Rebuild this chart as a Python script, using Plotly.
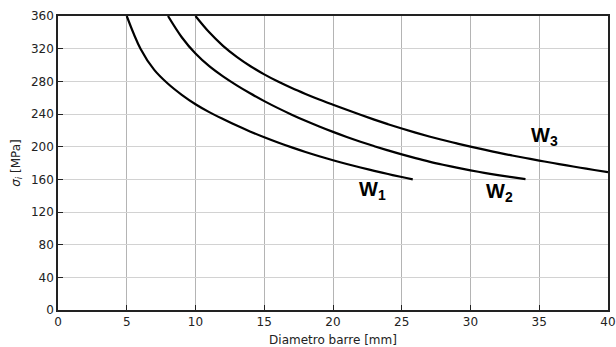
import plotly.graph_objects as go

# Data
w1_x = [5, 6, 7, 8, 9, 10, 11, 12, 13, 14, 15, 16, 17, 18, 19, 20, 21, 22, 23, 24, 25, 25.8]
w1_y = [360, 320, 294, 277, 263.5, 252, 242.3, 233.8, 225.8, 218.4, 211.5, 205.1, 199.1, 193.5,
        188.3, 183.4, 178.8, 174.5, 170.4, 166.5, 162.8, 160]

w2_x = [8, 9, 10, 11, 12, 13, 14, 15, 16, 17, 18, 19, 20, 21, 22, 23, 24, 25, 26, 27, 28, 29,
        30, 31, 32, 33, 34]
w2_y = [360, 334, 314, 298.5, 286, 275, 265, 255.8, 247.2, 239.2, 231.7, 224.7, 218.1, 211.9,
        206.1, 200.6, 195.4, 190.5, 185.9, 181.6, 177.8, 174.3, 171, 168, 165.2, 162.6, 160.2]

w3_x = [10, 11, 12, 13, 14, 15, 16, 17, 18, 19, 20, 21, 22, 23, 24, 25, 26, 27, 28, 29, 30,
        31, 32, 33, 34, 35, 36, 37, 38, 39, 40]
w3_y = [360, 340, 323.5, 310, 298.5, 288.5, 279.7, 271.8, 264.6, 257.8, 251.4, 245.1, 239,
        233.1, 227.5, 222.2, 217.2, 212.5, 208.1, 204, 200.1, 196.3, 192.7, 189.3, 186.1,
        183, 180, 177.1, 174.2, 171.4, 168.7]

labels = ["W<sub>1</sub>", "W<sub>2</sub>", "W<sub>3</sub>"]
label_x = [22.9, 32.1, 35.4]
label_y = [146, 144, 213]

x_ticks = [0, 5, 10, 15, 20, 25, 30, 35, 40]
y_ticks = [0, 40, 80, 120, 160, 200, 240, 280, 320, 360]

fig = go.Figure()
for xs, ys in [(w1_x, w1_y), (w2_x, w2_y), (w3_x, w3_y)]:
    fig.add_trace(go.Scatter(x=xs, y=ys, mode="lines",
                             line=dict(color="black", width=2.2, shape="spline", smoothing=1.0),
                             showlegend=False, hoverinfo="skip"))

for t, lx, ly in zip(labels, label_x, label_y):
    fig.add_annotation(x=lx, y=ly, text="<b>" + t + "</b>", showarrow=False,
                       font=dict(family="Liberation Sans Narrow, Arial Narrow, Liberation Sans", size=20, color="black"))

tick_font = dict(family="DejaVu Sans", size=12, color="#222")

fig.update_layout(
    width=616, height=347,
    margin=dict(l=58, r=8, t=16, b=37),
    paper_bgcolor="white", plot_bgcolor="white",
    font=tick_font,
    xaxis=dict(range=[0, 40], tickvals=x_ticks, showgrid=True, gridcolor="#b4b4b4", gridwidth=1,
               showline=True, linecolor="#222", linewidth=1.5, mirror=True, automargin=False,
               ticks="inside", ticklen=5, tickcolor="#222", zeroline=False,
               tickfont=tick_font,
               title=dict(text="Diametro barre [mm]", standoff=9, font=tick_font)),
    yaxis=dict(range=[0, 360], tickvals=y_ticks, showgrid=True, gridcolor="#d2d2d2", gridwidth=1,
               showline=True, linecolor="#222", linewidth=1.5, mirror=True, automargin=False,
               ticks="inside", ticklen=5, tickcolor="#222", zeroline=False,
               tickfont=tick_font,
               title=dict(text="<i>σ<sub>i</sub></i> [MPa]", standoff=8, font=tick_font)),
)

fig.write_html("out.html")
